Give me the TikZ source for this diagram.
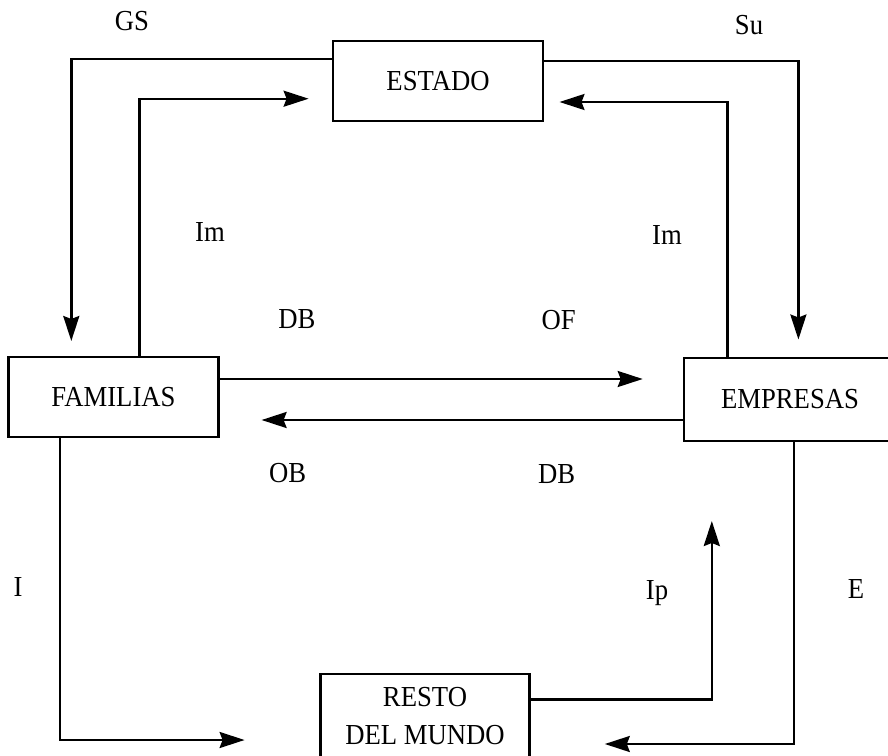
\documentclass[tikz,border=0pt]{standalone}
\usepackage{fontspec}
\setmainfont{Liberation Serif}[FakeStretch=0.92]
\usetikzlibrary{arrows.meta}
\begin{document}
\begin{tikzpicture}[x=1pt,y=-1pt,
  sector/.style={draw, line width=2.6pt, inner sep=0pt,
    font=\fontsize{29}{38}\selectfont, align=center},
  flow/.style={line width=2.4pt, -{Stealth[length=25pt,width=16pt,inset=3pt]}},
  lbl/.style={anchor=base, inner sep=0pt, font=\fontsize{29}{34}\selectfont}]
\useasboundingbox (0,0) rectangle (888,755);

% sectors of the economy
\node[sector, minimum width=210pt, minimum height=80pt] (estado) at (438,81) {ESTADO};
\node[sector, minimum width=210pt, minimum height=80pt] (familias) at (113.5,397) {FAMILIAS};
\node[sector, minimum width=212pt, minimum height=83pt] (empresas) at (790,399.5) {EMPRESAS};
\node[sector, minimum width=208.5pt, minimum height=84pt] (resto) at (425,716) {RESTO\\DEL MUNDO};

% free ends of the flows
\coordinate (gsEnd) at (71.3,341);
\coordinate (suEnd) at (798.4,339.5);
\coordinate (imLend) at (308.6,98.7);
\coordinate (imRend) at (559.5,102);
\coordinate (dbEnd) at (642.7,379);
\coordinate (obEnd) at (261.6,420);
\coordinate (iEnd) at (244.6,740);
\coordinate (eEnd) at (604.8,744);
\coordinate (ipEnd) at (711.8,521);

% flows
\draw[flow] ([yshift=22pt]estado.west) -| (gsEnd);
\draw[flow] ([yshift=20pt]estado.east) -| (suEnd);
\draw[flow] ([xshift=25.8pt]familias.north) |- (imLend);
\draw[flow] ([xshift=-62.4pt]empresas.north) |- (imRend);
\draw[flow] (familias.east |- dbEnd) -- (dbEnd);
\draw[flow] (empresas.west |- obEnd) -- (obEnd);
\draw[flow] ([xshift=-53.5pt]familias.south) |- (iEnd);
\draw[flow] ([xshift=4pt]empresas.south) |- (eEnd);
\draw[flow] ([yshift=16.4pt]resto.east) -| (ipEnd);

% flow labels
\node[lbl] (lGS) at (132,30) {GS};
\node[lbl] (lSu) at (749,34.7) {Su};
\node[lbl] (lImL) at (210,241.7) {Im};
\node[lbl] (lImR) at (667,244) {Im};
\node[lbl] (lDBt) at (297,328.8) {DB};
\node[lbl] (lOF) at (558.7,329.8) {OF};
\node[lbl] (lOB) at (287.7,482.4) {OB};
\node[lbl] (lDBb) at (556.6,483.9) {DB};
\node[lbl] (lI) at (18,596) {I};
\node[lbl] (lIp) at (657,599.4) {Ip};
\node[lbl] (lE) at (856,598.5) {E};
\end{tikzpicture}
\end{document}
